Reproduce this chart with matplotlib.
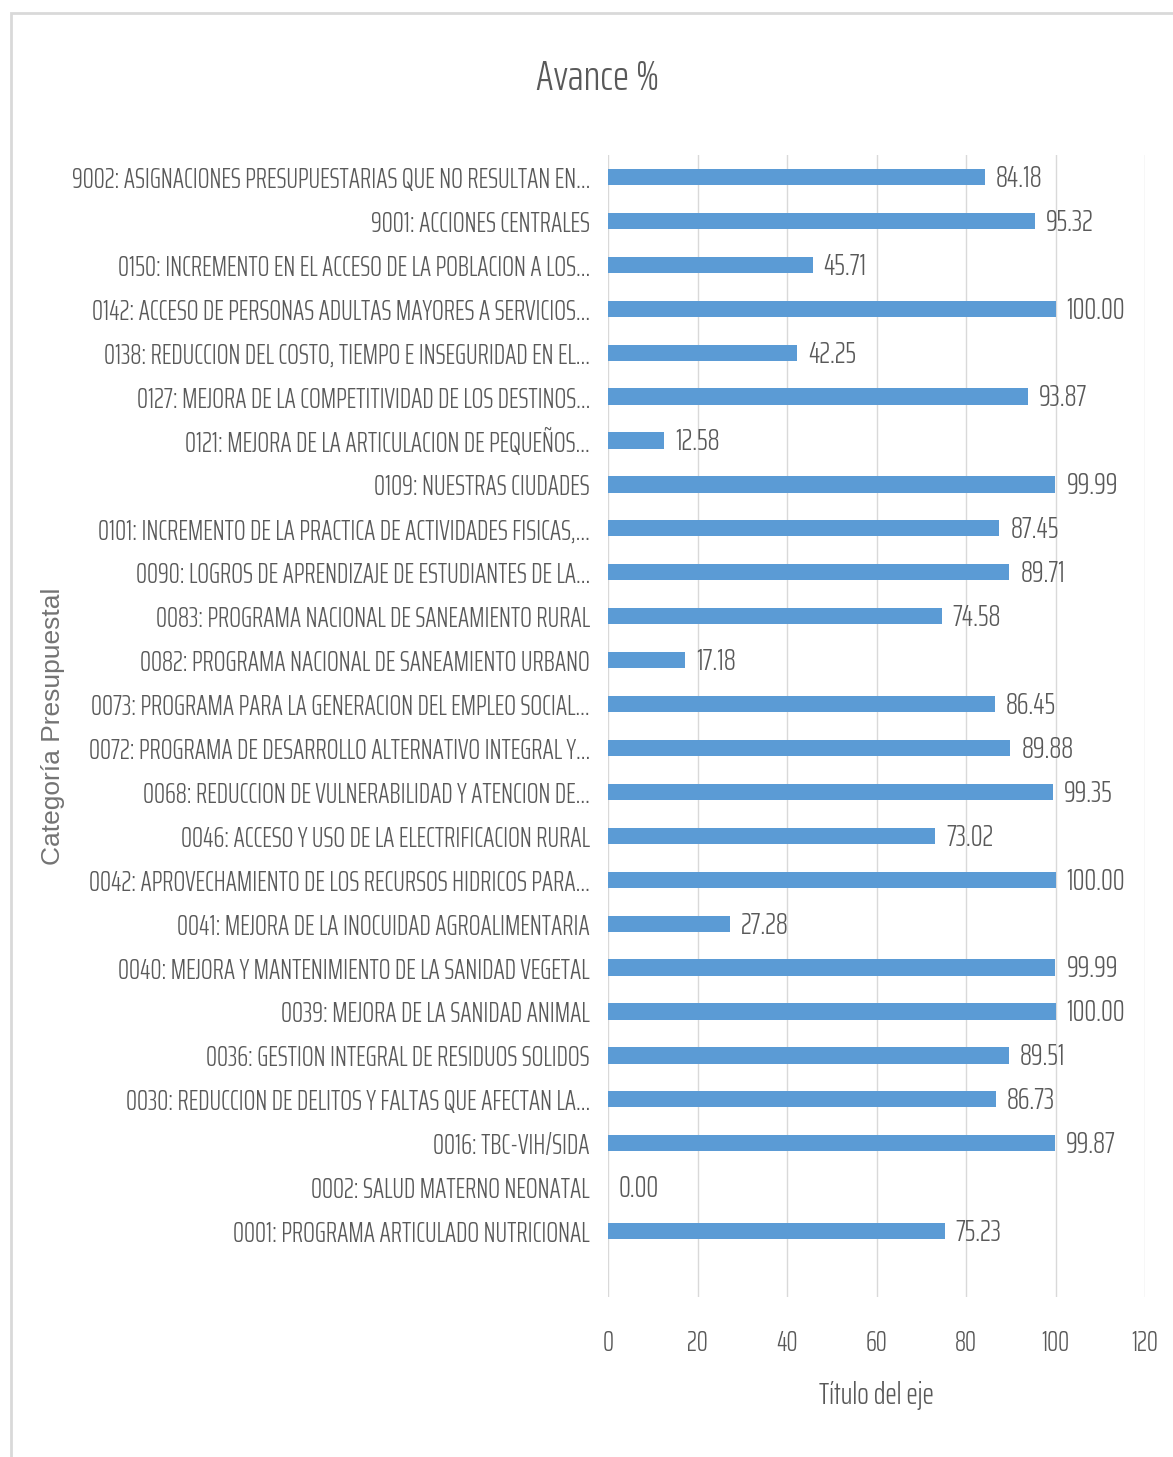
import matplotlib
matplotlib.use("Agg")
import matplotlib.pyplot as plt
from matplotlib.patches import Rectangle

# data, top to bottom as in the chart
categories = [
    "9002: ASIGNACIONES PRESUPUESTARIAS QUE NO RESULTAN EN...",
    "9001: ACCIONES CENTRALES",
    "0150: INCREMENTO EN EL ACCESO DE LA POBLACION A LOS...",
    "0142: ACCESO DE PERSONAS ADULTAS MAYORES A SERVICIOS...",
    "0138: REDUCCION DEL COSTO, TIEMPO E INSEGURIDAD EN EL...",
    "0127: MEJORA DE LA COMPETITIVIDAD DE LOS DESTINOS...",
    "0121: MEJORA DE LA ARTICULACION DE PEQUEÑOS...",
    "0109: NUESTRAS CIUDADES",
    "0101: INCREMENTO DE LA PRACTICA DE ACTIVIDADES FISICAS,...",
    "0090: LOGROS DE APRENDIZAJE DE ESTUDIANTES DE LA...",
    "0083: PROGRAMA NACIONAL DE SANEAMIENTO RURAL",
    "0082: PROGRAMA NACIONAL DE SANEAMIENTO URBANO",
    "0073: PROGRAMA PARA LA GENERACION DEL EMPLEO SOCIAL...",
    "0072: PROGRAMA DE DESARROLLO ALTERNATIVO INTEGRAL Y...",
    "0068: REDUCCION DE VULNERABILIDAD Y ATENCION DE...",
    "0046: ACCESO Y USO DE LA ELECTRIFICACION RURAL",
    "0042: APROVECHAMIENTO DE LOS RECURSOS HIDRICOS PARA...",
    "0041: MEJORA DE LA INOCUIDAD AGROALIMENTARIA",
    "0040: MEJORA Y MANTENIMIENTO DE LA SANIDAD VEGETAL",
    "0039: MEJORA DE LA SANIDAD ANIMAL",
    "0036: GESTION INTEGRAL DE RESIDUOS SOLIDOS",
    "0030: REDUCCION DE DELITOS Y FALTAS QUE AFECTAN LA...",
    "0016: TBC-VIH/SIDA",
    "0002: SALUD MATERNO NEONATAL",
    "0001: PROGRAMA ARTICULADO NUTRICIONAL",
]
avance = [84.18, 95.32, 45.71, 100.00, 42.25, 93.87, 12.58, 99.99, 87.45,
          89.71, 74.58, 17.18, 86.45, 89.88, 99.35, 73.02, 100.00, 27.28,
          99.99, 100.00, 89.51, 86.73, 99.87, 0.00, 75.23]
x_ticks = [0, 20, 40, 60, 80, 100, 120]

cond = ["Saira ExtraCondensed", "DejaVu Sans"]
gray = "#595959"
bar_color = "#5B9BD5"
grid_color = "#D9D9D9"

W, H = 1173, 1457
fig = plt.figure(figsize=(W / 100, H / 100), dpi=100)
fig.patch.set_facecolor("white")

# chart area border (runs past the right and bottom edges)
fig.add_artist(Rectangle((11 / W, -0.05), 1.1, 1 - 13 / H + 0.05,
                         transform=fig.transFigure, fill=False,
                         edgecolor=grid_color, linewidth=2))

ax = fig.add_axes([608 / W, (H - 1297) / H, (1145 - 608) / W, (1297 - 155) / H])
pos = list(range(len(categories)))
ax.barh(pos, avance, height=0.37, color=bar_color, zorder=3)
# one empty slot below the last bar, as in the reference
ax.set_ylim(len(categories) + 0.5, -0.5)
ax.set_xlim(0, 120)
ax.set_xticks(x_ticks)
ax.set_yticks(pos)
ax.set_yticklabels(categories, family=cond, weight=300, fontsize=20, color=gray)
ax.set_xticklabels([str(t) for t in x_ticks], family=cond, weight=300,
                   fontsize=20, color=gray)
ax.tick_params(axis="y", length=0, pad=13)
ax.tick_params(axis="x", length=0, pad=23)
ax.grid(axis="x", color=grid_color, linewidth=1, zorder=0)
for s in ax.spines.values():
    s.set_visible(False)

for p, v in zip(pos, avance):
    ax.annotate(f"{v:.2f}", (v, p), xytext=(8, -1), textcoords="offset points",
                va="center", ha="left", fontsize=21.5, color=gray,
                family=cond, weight=300)

ax.set_xlabel("Título del eje", family=cond, weight=300, fontsize=22,
              color=gray, labelpad=17)
fig.text(53 / W, 1 - 726 / H, "Categoría Presupuestal", rotation=90,
         ha="center", va="center", fontsize=19, color="#737373",
         family=["Liberation Sans", "DejaVu Sans"])
fig.text(598 / W, 1 - 78 / H, "Avance %", ha="center", va="center",
         fontsize=31, color=gray, family=cond, weight=300)

fig.savefig("out.png", dpi=100)
